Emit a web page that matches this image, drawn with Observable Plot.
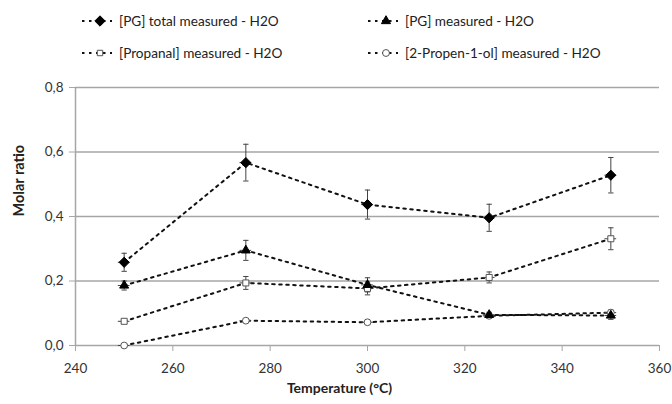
<!DOCTYPE html>
<html>
<head>
<meta charset="utf-8">
<script src="https://cdn.jsdelivr.net/npm/d3@7"></script>
<script src="https://cdn.jsdelivr.net/npm/@observablehq/plot@0.6"></script>
<style>
  body { margin: 0; background: #fff; font-family: Lato, "Open Sans", sans-serif; }
  #wrap { position: relative; width: 672px; height: 404px; overflow: hidden; }
  #legend { position: relative; width: 672px; height: 65px; }
  .item { position: absolute; display: flex; align-items: center; font-size: 13.6px; color: #222; white-space: nowrap; }
  .item svg { margin-right: 7px; }
</style>
</head>
<body>
<div id="wrap">
  <div id="legend"></div>
  <div id="chart"></div>
</div>
<script>
// ---- data ----
const temperatures = [250, 275, 300, 325, 350];
const seriesNames = [
  "[PG] total measured - H2O",
  "[PG] measured - H2O",
  "[Propanal] measured - H2O",
  "[2-Propen-1-ol] measured - H2O"
];
const pgTotal    = [0.258, 0.567, 0.437, 0.396, 0.528];
const pgTotalErr = [0.028, 0.057, 0.045, 0.042, 0.055];
const pg         = [0.186, 0.295, 0.188, 0.095, 0.093];
const pgErr      = [0.014, 0.031, 0.022, 0.008, 0.012];
const propanal   = [0.075, 0.194, 0.177, 0.211, 0.331];
const propanalErr= [0.006, 0.020, 0.020, 0.017, 0.034];
const allyl      = [0.000, 0.077, 0.072, 0.092, 0.102];
const allylErr   = [0.004, 0.006, 0.005, 0.008, 0.008];
const tempErr = 1.2;
const yTicks = [0, 0.2, 0.4, 0.6, 0.8];
const xTicks = [240, 260, 280, 300, 320, 340, 360];

const values = [pgTotal, pg, propanal, allyl];
const errors = [pgTotalErr, pgErr, propanalErr, allylErr];
const symbols = ["diamond2", "triangle2", "square", "circle"];
const fills = ["#000", "#000", "#fff", "#fff"];
const strokes = ["#000", "#000", "#555", "#555"];
const radii = [4.6, 4.3, 3.4, 3.4];
const drawOrder = [3, 2, 0, 1];

const data = [];
seriesNames.forEach((s, i) => temperatures.forEach((t, j) => data.push({
  series: s, idx: i, t, v: values[i][j], e: errors[i][j]
})));

const fmt = d => d.toFixed(1).replace(".", ",");
const grid = "#a6a6a6";

const marks = [
  Plot.ruleY(yTicks.filter(d => d > 0), {stroke: grid, strokeWidth: 1.5}),
  Plot.ruleY([0], {stroke: grid, strokeWidth: 1.5}),
  Plot.ruleX([240], {stroke: grid, strokeWidth: 1.5}),
  Plot.axisY({ticks: yTicks, tickFormat: fmt, tickSize: 6, tickPadding: 6, stroke: grid, fontSize: 13.5, fill: "#333", label: null}),
  Plot.axisX({ticks: xTicks, tickSize: 6, tickPadding: 12, stroke: grid, fontSize: 13.5, fill: "#333", label: null}),
  Plot.line(data, {x: "t", y: "v", z: "series", stroke: "#111", strokeWidth: 2, strokeDasharray: "2.5,4.5"}),
  // vertical error bars
  Plot.ruleX(data, {x: "t", y1: d => d.v - d.e, y2: d => d.v + d.e, stroke: "#444", strokeWidth: 1}),
  Plot.link(data, {x1: d => d.t - 0.55, x2: d => d.t + 0.55, y1: d => d.v - d.e, y2: d => d.v - d.e, stroke: "#444", strokeWidth: 1}),
  Plot.link(data, {x1: d => d.t - 0.55, x2: d => d.t + 0.55, y1: d => d.v + d.e, y2: d => d.v + d.e, stroke: "#444", strokeWidth: 1}),
  // horizontal error bars
  Plot.ruleY(data, {y: "v", x1: d => d.t - tempErr, x2: d => d.t + tempErr, stroke: "#444", strokeWidth: 1}),
];
drawOrder.forEach(i => {
  marks.push(Plot.dot(data.filter(d => d.idx === i), {
    x: "t", y: "v", symbol: symbols[i], r: radii[i], fill: fills[i], stroke: strokes[i], strokeWidth: 1
  }));
});
marks.push(Plot.text(["Temperature (°C)"], {frameAnchor: "bottom", dx: -28, dy: 47, fontSize: 14, fontWeight: "bold", fill: "#222"}));
marks.push(Plot.text(["Molar ratio"], {frameAnchor: "left", dx: -56, rotate: -90, fontSize: 14.5, fontWeight: "bold", fill: "#222"}));

const chart = Plot.plot({
  width: 672,
  height: 339,
  marginTop: 22,
  marginBottom: 59,
  marginLeft: 75,
  marginRight: 13,
  style: {fontFamily: "Lato, 'Open Sans', sans-serif", background: "#fff"},
  x: {domain: [240, 360]},
  y: {domain: [0, 0.8]},
  marks
});
document.getElementById("chart").appendChild(chart);

// ---- legend ----
const legendPos = [[82, 21], [368, 21], [82, 53], [368, 53]];
const legend = d3.select("#legend");
seriesNames.forEach((s, i) => {
  const item = legend.append("div").attr("class", "item")
    .style("left", legendPos[i][0] + "px").style("top", (legendPos[i][1] - 9) + "px");
  const svg = item.append("svg").attr("width", 30).attr("height", 18);
  svg.append("line").attr("x1", 0).attr("x2", 30).attr("y1", 9).attr("y2", 9)
    .attr("stroke", "#111").attr("stroke-width", 2).attr("stroke-dasharray", "2.5,4.5");
  const symMap = {diamond2: d3.symbolDiamond2, triangle2: d3.symbolTriangle2, square: d3.symbolSquare2, circle: d3.symbolCircle};
  svg.append("path")
    .attr("d", d3.symbol(symMap[symbols[i]], Math.pow(radii[i] * 1.8, 2))())
    .attr("transform", "translate(18,9)")
    .attr("fill", fills[i]).attr("stroke", strokes[i]).attr("stroke-width", 1);
  item.append("span").text(s);
});
</script>
</body>
</html>
